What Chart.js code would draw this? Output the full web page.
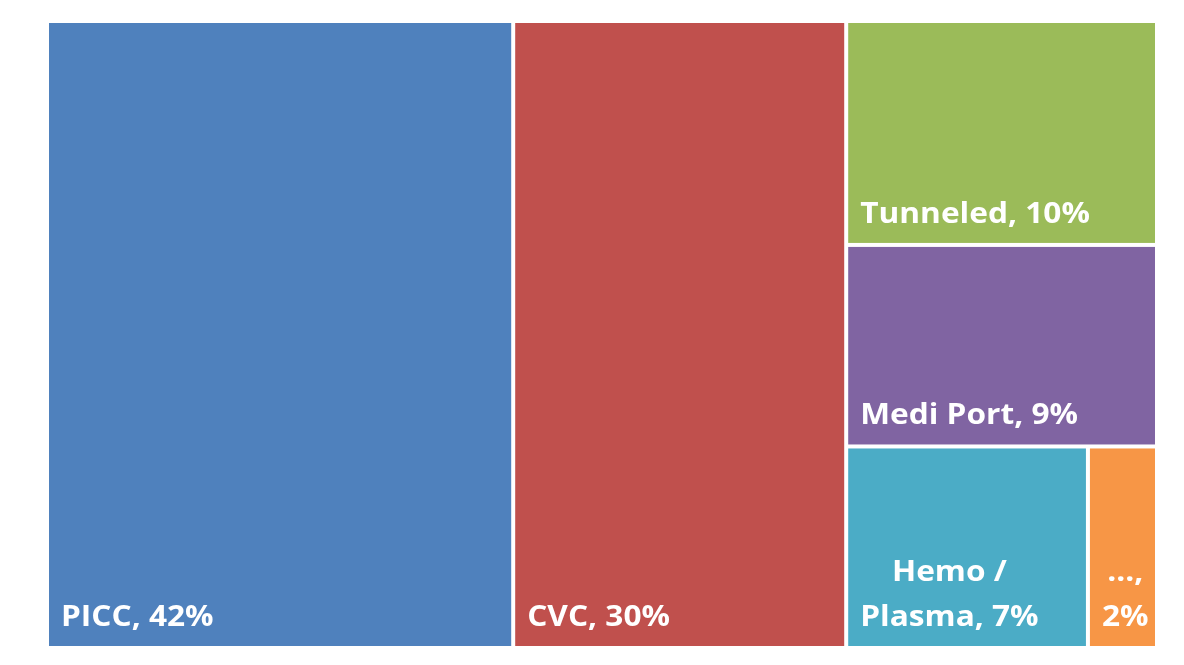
<!DOCTYPE html>
<html>
<head>
<meta charset="utf-8">
<script src="https://cdn.jsdelivr.net/npm/chart.js@4/dist/chart.umd.min.js"></script>
<style>
  html, body { margin: 0; padding: 0; background: #ffffff; }
  #wrap { width: 1184px; height: 665px; }
</style>
</head>
<body>
<div id="wrap"><canvas id="c" width="1184" height="665"></canvas></div>
<script>
// ---- data ----
const categories = ["PICC", "CVC", "Tunneled", "Medi Port", "Hemo / Plasma", "..."];
const shares = [42, 30, 10, 9, 7, 2];
const colors = ["#4F81BD", "#C0504D", "#9BBB59", "#8064A2", "#4BACC6", "#F79646"];

// squarified treemap layout in pixel space (bounds come from the chart scales)
function worst(row, side) {
  const s = row.reduce((a, b) => a + b.area, 0);
  let mx = -Infinity, mn = Infinity;
  row.forEach(r => { mx = Math.max(mx, r.area); mn = Math.min(mn, r.area); });
  return Math.max((side * side * mx) / (s * s), (s * s) / (side * side * mn));
}
function layoutRow(row, rect, out) {
  const s = row.reduce((a, b) => a + b.area, 0);
  if (rect.w >= rect.h) {
    const cw = s / rect.h;
    let y = rect.y;
    row.forEach(r => { const h = r.area / cw; out.push({ ...r, x: rect.x, y: y, w: cw, h: h }); y += h; });
    rect.x += cw; rect.w -= cw;
  } else {
    const rh = s / rect.w;
    let x = rect.x;
    row.forEach(r => { const w = r.area / rh; out.push({ ...r, x: x, y: rect.y, w: w, h: rh }); x += w; });
    rect.y += rh; rect.h -= rh;
  }
}
function squarify(items, rect) {
  const out = [];
  let row = [];
  items.forEach(it => {
    const side = Math.min(rect.w, rect.h);
    if (row.length === 0 || worst(row.concat([it]), side) <= worst(row, side)) {
      row.push(it);
    } else {
      layoutRow(row, rect, out);
      row = [it];
    }
  });
  if (row.length) layoutRow(row, rect, out);
  return out;
}

const SX = 1.13; // horizontal stretch to mimic the wide label face
function textW(ctx, t) { return ctx.measureText(t).width * SX; }

function wrapWords(ctx, text, maxW) {
  const words = text.split(" ");
  const lines = [];
  let cur = "";
  words.forEach(w => {
    const t = cur ? cur + " " + w : w;
    if (cur && textW(ctx, t) > maxW) { lines.push(cur); cur = w; }
    else cur = t;
  });
  if (cur) lines.push(cur);
  return lines;
}

const treemapPlugin = {
  id: "treemap",
  afterDatasetsDraw(chart) {
    const ctx = chart.ctx;
    const xs = chart.scales.x, ys = chart.scales.y;
    const x0 = xs.getPixelForValue(0), x1 = xs.getPixelForValue(100);
    const yTop = ys.getPixelForValue(100), yBot = ys.getPixelForValue(0);
    const W = x1 - x0, H = yBot - yTop;
    const total = shares.reduce((a, b) => a + b, 0);
    const items = shares.map((v, i) => ({ i: i, area: v / total * W * H }));
    const rects = squarify(items, { x: x0, y: yTop, w: W, h: H });
    const gap = 2, pad = 12;
    ctx.save();
    rects.forEach(r => {
      ctx.fillStyle = colors[r.i];
      ctx.fillRect(r.x + gap, r.y + gap, r.w - 2 * gap, r.h - 2 * gap);
    });
    ctx.font = "bold 28px 'Open Sans'";
    ctx.fillStyle = "#ffffff";
    ctx.textBaseline = "alphabetic";
    ctx.textAlign = "center";
    const lh = 45;
    rects.forEach(r => {
      const label = categories[r.i] + ", " + shares[r.i] + "%";
      const lines = wrapWords(ctx, label, r.w - 2 * gap - 2 * pad);
      const bw = Math.max(...lines.map(l => textW(ctx, l)));
      const left = r.x + gap + pad;
      const cx = left + bw / 2;
      const lastBase = r.y + r.h - gap - 20;
      lines.forEach((l, k) => {
        ctx.save();
        ctx.translate(cx, lastBase - (lines.length - 1 - k) * lh);
        ctx.scale(SX, 1);
        ctx.fillText(l, 0, 0);
        ctx.restore();
      });
    });
    ctx.restore();
  }
};

new Chart(document.getElementById("c"), {
  type: "scatter",
  data: { datasets: [{ label: "Share", data: [], pointRadius: 0 }] },
  options: {
    responsive: false,
    animation: false,
    layout: { padding: { left: 47, right: 27, top: 21, bottom: 17 } },
    plugins: { legend: { display: false }, tooltip: { enabled: false } },
    scales: {
      x: { type: "linear", min: 0, max: 100, display: false },
      y: { type: "linear", min: 0, max: 100, display: false }
    }
  },
  plugins: [treemapPlugin]
});
</script>
</body>
</html>
